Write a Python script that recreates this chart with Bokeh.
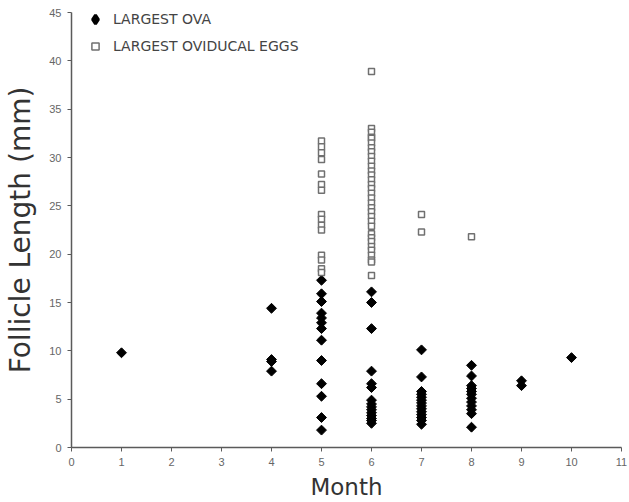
import math
from bokeh.plotting import figure
from bokeh.models import FixedTicker, Legend, LegendItem
from bokeh.embed import file_html
from bokeh.resources import INLINE

# ---- data ----
ova_month = [1,
             4, 4, 4, 4,
             5, 5, 5, 5, 5, 5, 5, 5, 5, 5, 5, 5, 5,
             6, 6, 6, 6, 6, 6, 6, 6, 6, 6, 6, 6, 6, 6, 6,
             7, 7, 7, 7, 7, 7, 7, 7, 7, 7, 7, 7, 7, 7,
             8, 8, 8, 8, 8, 8, 8, 8, 8, 8, 8, 8,
             9, 9,
             10]
ova_len = [9.8,
           14.4, 9.1, 8.9, 7.9,
           17.3, 15.9, 15.1, 13.9, 13.4, 12.9, 12.3, 11.1, 9.0, 6.6, 5.3, 3.1, 1.8,
           16.1, 15.0, 12.3, 7.9, 6.6, 6.2, 4.9, 4.5, 4.2, 3.9, 3.6, 3.3, 3.0, 2.8, 2.5,
           10.1, 7.3, 5.8, 5.5, 5.2, 4.9, 4.6, 4.3, 4.0, 3.7, 3.4, 3.1, 2.8, 2.4,
           8.5, 7.4, 6.4, 6.1, 5.8, 5.5, 5.1, 4.7, 4.3, 3.9, 3.5, 2.1,
           6.9, 6.4,
           9.3]

egg_month = [5, 5, 5, 5, 5, 5, 5, 5, 5, 5, 5, 5, 5, 5, 5,
             6, 6, 6, 6, 6, 6, 6, 6, 6, 6, 6, 6, 6, 6, 6, 6, 6, 6, 6, 6,
             6, 6, 6, 6, 6, 6, 6, 6, 6, 6, 6, 6, 6,
             7, 7,
             8]
egg_len = [31.7, 31.1, 30.5, 29.8, 28.3, 27.2, 26.6, 24.1, 23.6, 23.0, 22.5, 19.9, 19.4, 18.5, 18.1,
           38.9, 33.0, 32.6, 32.1, 32.0, 31.5, 31.0, 30.6, 30.1, 29.6, 29.1, 28.6, 28.2, 27.7, 27.2, 26.8,
           26.3, 25.8, 25.3, 24.8, 24.4, 23.9, 23.4, 22.9, 22.1, 21.7, 21.3, 20.8, 20.4, 19.9, 19.4, 19.2, 17.8,
           24.1, 22.3,
           21.8]

series_labels = ["LARGEST OVA", "LARGEST OVIDUCAL EGGS"]
x_ticks = list(range(0, 12))
y_ticks = list(range(0, 50, 5))

p = figure(width=629, height=502, x_range=(0, 11), y_range=(0, 45),
           output_backend="svg", toolbar_location=None,
           min_border_left=71, min_border_right=8, min_border_top=12, min_border_bottom=55)
p.outline_line_color = None
p.xgrid.visible = False
p.ygrid.visible = False

ova = p.scatter(x=ova_month, y=ova_len, marker="square", angle=math.pi / 4, size=7,
                fill_color="black", line_color="black")
eggs = p.scatter(x=egg_month, y=egg_len, marker="square", size=6,
                 fill_color="white", line_color="#707070", line_width=1.5)
# hidden twin of the ova series, used only so that the legend shows a diamond key
ova_key = p.scatter(x=ova_month, y=ova_len, marker="diamond", size=10,
                    fill_color="black", line_color="black", line_width=3)
ova_key.visible = False

for ax in (p.xaxis[0], p.yaxis[0]):
    ax.axis_line_color = "#5a5a5a"
    ax.axis_line_width = 1.5
    ax.major_tick_line_color = "#5a5a5a"
    ax.major_tick_out = 4
    ax.major_tick_in = 0
    ax.minor_tick_out = 0
    ax.minor_tick_in = 0
    ax.major_label_text_font = "Liberation Sans"
    ax.major_label_text_font_size = "11px"
    ax.major_label_text_color = "#666666"
    ax.axis_label_text_font = "DejaVu Sans"
    ax.axis_label_text_font_style = "normal"
    ax.axis_label_text_color = "#333333"

p.xaxis.axis_label_text_font_size = "23px"
p.yaxis.axis_label_text_font_size = "28px"
p.xaxis.ticker = FixedTicker(ticks=x_ticks)
p.yaxis.ticker = FixedTicker(ticks=y_ticks)
p.xaxis.major_label_standoff = 6
p.yaxis.major_label_standoff = 6
p.xaxis.axis_label = "Month"
p.yaxis.axis_label = "Follicle Length (mm)"
p.xaxis.axis_label_standoff = 5
p.yaxis.axis_label_standoff = 9


def make_legend(label, renderer, loc, glyph, standoff):
    lg = Legend(items=[LegendItem(label=label, renderers=[renderer])], location=loc)
    lg.background_fill_alpha = 0
    lg.border_line_color = None
    lg.padding = 0
    lg.margin = 0
    lg.glyph_width = glyph
    lg.glyph_height = glyph
    lg.label_height = glyph
    lg.label_standoff = standoff
    lg.label_text_font = "DejaVu Sans"
    lg.label_text_font_size = "14px"
    lg.label_text_color = "#444444"
    return lg


p.add_layout(make_legend(series_labels[0], ova_key, (13, 417), 22, 7))
p.add_layout(make_legend(series_labels[1], eggs, (15, 392), 18, 9))

open("out.html", "w").write(file_html(p, INLINE))
